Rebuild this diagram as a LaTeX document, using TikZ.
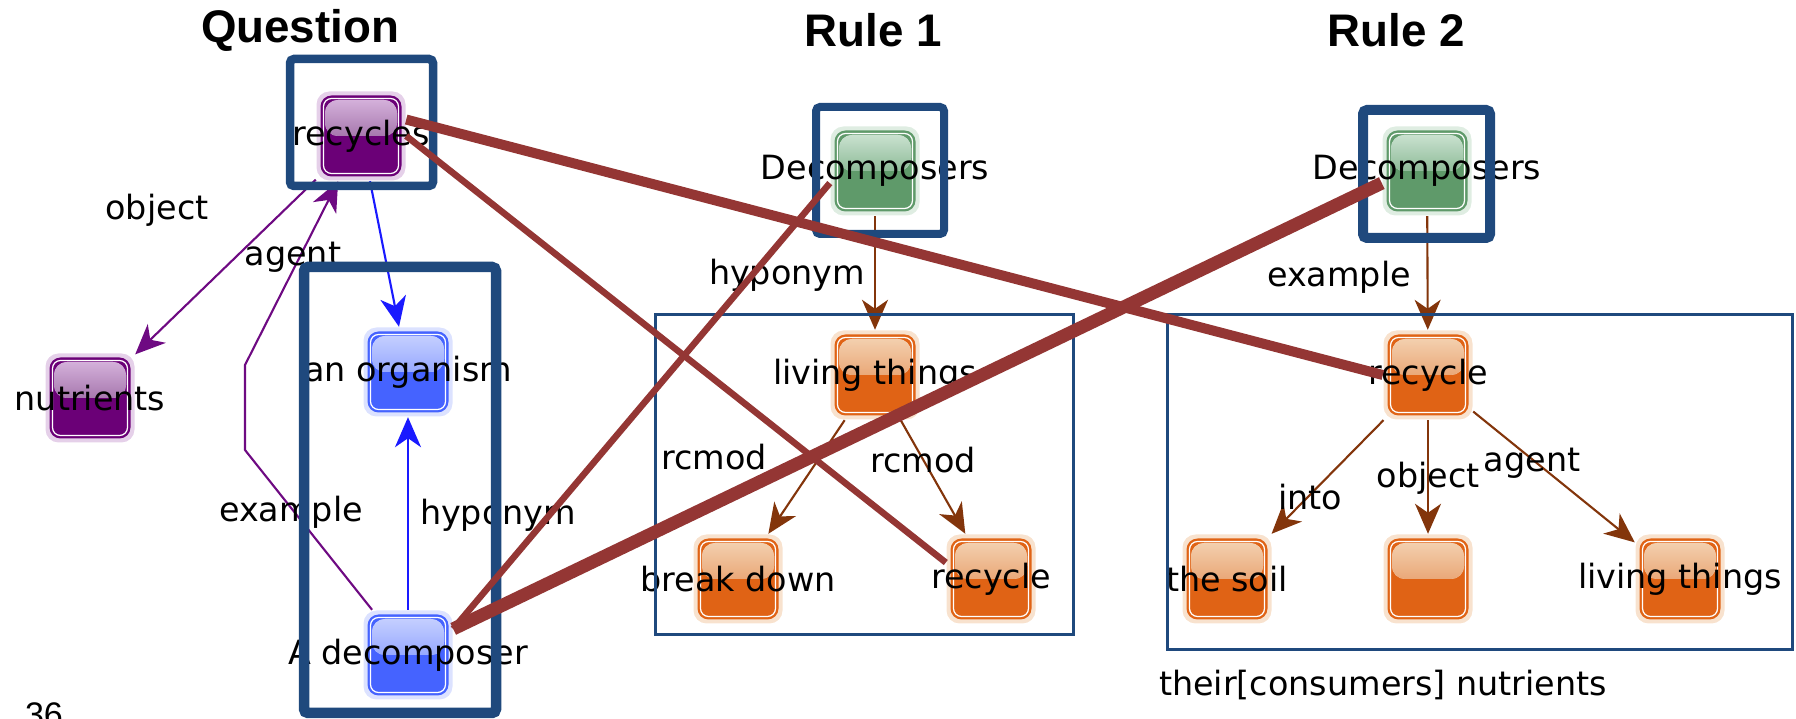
\documentclass[tikz,border=0pt]{standalone}
\usepackage{fontspec}
\setmainfont{DejaVu Sans}
\newfontfamily\headfont{Liberation Sans}
\usetikzlibrary{arrows.meta}
\usetikzlibrary{calc}

\definecolor{purpleDark}{HTML}{6B0077}
\definecolor{purpleLight}{HTML}{D4B0DA}
\definecolor{purpleMid}{HTML}{A778AE}
\definecolor{blueDark}{HTML}{4563FF}
\definecolor{blueLight}{HTML}{C4CEFF}
\definecolor{blueMid}{HTML}{97A9FF}
\definecolor{greenDark}{HTML}{5F9A6A}
\definecolor{greenLight}{HTML}{C9E1CF}
\definecolor{greenMid}{HTML}{8EBB98}
\definecolor{orangeDark}{HTML}{E06315}
\definecolor{orangeLight}{HTML}{F3CFAE}
\definecolor{orangeMid}{HTML}{EAA878}
\definecolor{edgePurple}{HTML}{6E0A82}
\definecolor{edgeBlue}{HTML}{1A1AFF}
\definecolor{edgeBrown}{HTML}{83350B}
\definecolor{boxBlue}{HTML}{1F497D}
\definecolor{linkRed}{HTML}{943634}

\tikzset{
  concept/.style n args={3}{rectangle, rounded corners=1.3mm, minimum size=8.9mm, inner sep=0pt, fill=#2!60!white,
    path picture={
      \fill[#1, rounded corners=1.1mm] ($(path picture bounding box.south west)+(0.4mm,0.4mm)$) rectangle ($(path picture bounding box.north east)+(-0.4mm,-0.4mm)$);
      \fill[top color=#2, bottom color=#3] ($(path picture bounding box.north west)+(0.85mm,-0.85mm)$) rectangle ($(path picture bounding box.east)+(-0.85mm,0mm)$);
      \draw[white, line width=0.35pt, rounded corners=0.8mm] ($(path picture bounding box.south west)+(0.7mm,0.7mm)$) rectangle ($(path picture bounding box.north east)+(-0.7mm,-0.7mm)$);
    }},
  purplenode/.style={concept={purpleDark}{purpleLight}{purpleMid}},
  bluenode/.style={concept={blueDark}{blueLight}{blueMid}},
  greennode/.style={concept={greenDark}{greenLight}{greenMid}},
  orangenode/.style={concept={orangeDark}{orangeLight}{orangeMid}},
  nodetext/.style={font=\fontsize{9.5}{11}\selectfont, text=black},
  elabel/.style={font=\fontsize{9.5}{11}\selectfont, text=black},
  title/.style={font=\headfont\fontsize{13}{15}\selectfont\bfseries},
  tip/.style={-{Stealth[length=3mm,width=2.6mm,inset=0.9mm]}},
  purplearrow/.style={draw=edgePurple, line width=0.6pt, tip},
  bluearrow/.style={draw=edgeBlue, line width=0.6pt, tip},
  brownarrow/.style={draw=edgeBrown, line width=0.6pt, tip},
  hlbox/.style={draw=boxBlue, rounded corners=0.4mm},
  rulebox/.style={draw=boxBlue, line width=0.3mm},
  alink/.style={draw=linkRed}
}

\begin{document}
\begin{tikzpicture}
\useasboundingbox (0,0) rectangle (17.96,7.19);
\clip (0,0) rectangle (17.96,7.19);

% titles
\node[title] (qtitle) at (3.00,6.89) {Question};
\node[title] (r1title) at (8.73,6.89) {Rule 1};
\node[title] (r2title) at (13.96,6.89) {Rule 2};
\node[font=\headfont\fontsize{9.7}{11}\selectfont, anchor=north, inner sep=0pt] (pagenum) at (0.44,0.17) {36};

% question graph
\node[purplenode, label={[nodetext]center:recycles}] (recycles) at (3.61,5.83) {};
\node[purplenode, label={[nodetext]center:nutrients}] (nutrients) at (0.90,3.21) {};
\node[bluenode, label={[nodetext]center:an organism}] (organism) at (4.08,3.47) {};
\node[bluenode, label={[nodetext]center:A decomposer}] (decomposer) at (4.08,0.64) {};

% rule 1
\node[greennode, label={[nodetext]center:Decomposers}] (decoA) at (8.75,5.48) {};
\node[orangenode, label={[nodetext]center:living things}] (livingA) at (8.75,3.44) {};
\node[orangenode, label={[nodetext]center:break down}] (breakdown) at (7.38,1.40) {};
\node[orangenode, label={[nodetext]center:recycle}] (recycleA) at (9.91,1.40) {};

% rule 2
\node[greennode, label={[nodetext]center:Decomposers}] (decoB) at (14.27,5.48) {};
\node[orangenode, label={[nodetext]center:recycle}] (recycleB) at (14.28,3.44) {};
\node[orangenode, label={[nodetext]center:the soil}] (soil) at (12.27,1.40) {};
\node[orangenode] (nutrB) at (14.28,1.40) {};
\node[orangenode, label={[nodetext]center:living things}] (livingB) at (16.80,1.40) {};
\node[elabel] (nutrBtext) at (13.83,0.34) {their[consumers] nutrients};

\draw[purplearrow] (recycles) -- (nutrients);
\draw[purplearrow] (decomposer) -- (2.45,2.69) -- (2.45,3.54) -- (recycles);
\draw[bluearrow] (recycles) -- (organism);
\draw[bluearrow] (decomposer) -- (organism);
\draw[brownarrow] (decoA) -- (livingA);
\draw[brownarrow] (livingA) -- (breakdown);
\draw[brownarrow] (livingA) -- (recycleA);
\draw[brownarrow] (decoB) -- (recycleB);
\draw[brownarrow] (recycleB) -- (soil);
\draw[brownarrow] (recycleB) -- (nutrB);
\draw[brownarrow] (recycleB) -- (livingB);

\node[elabel] (lobject) at (1.57,5.09) {object};
\node[elabel] (lagent) at (2.93,4.62) {agent};
\node[elabel] (lexample) at (2.91,2.07) {example};
\node[elabel] (lhyponym) at (4.98,2.04) {hyponym};
\node[elabel] (lhyponymA) at (7.87,4.44) {hyponym};
\node[elabel] (lrcmodA) at (7.14,2.62) {rcmod};
\node[elabel] (lrcmodB) at (9.23,2.59) {rcmod};
\node[elabel] (lexampleB) at (13.39,4.42) {example};
\node[elabel] (linto) at (13.10,2.22) {into};
\node[elabel] (lobjectB) at (14.28,2.41) {object};
\node[elabel] (lagentB) at (15.32,2.56) {agent};

% highlight boxes
\draw[hlbox, line width=0.85mm] (2.90,5.33) rectangle (4.33,6.60);
\draw[hlbox, line width=1.05mm] (3.04,0.06) rectangle (4.96,4.52);
\draw[hlbox, line width=0.8mm] (8.16,4.85) rectangle (9.44,6.12);
\draw[hlbox, line width=1.0mm] (13.63,4.81) rectangle (14.90,6.09);
\draw[rulebox] (6.55,0.84) rectangle (10.73,4.04);
\draw[rulebox] (11.67,0.69) rectangle (17.92,4.04);

% alignment links
\draw[alink, line width=1.0mm] (recycles.20) -- (recycleB.west);
\draw[alink, line width=0.65mm] (recycles.east) -- (recycleA.160);
\draw[alink, line width=0.65mm] (decomposer.30) -- (decoA.195);
\draw[alink, line width=1.3mm] (decomposer.30) -- (decoB.195);
\end{tikzpicture}
\end{document}
